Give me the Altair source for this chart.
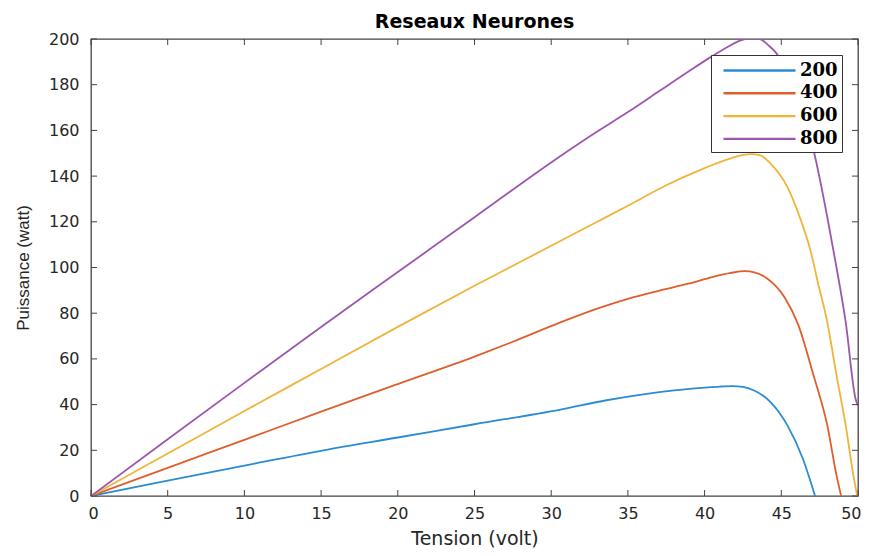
import altair as alt
import pandas as pd

# ---- data ----
series = ["200", "400", "600", "800"]
colors = ["#2b8cd4", "#de5f2c", "#efb43a", "#9c57ae"]

v200 = [0, 5, 10, 15.15, 20, 25, 30.6, 33.6, 36, 38, 40, 41, 41.8, 42.5, 43.2, 44.3, 45.4, 46.4, 47.2]
p200 = [0, 6.7, 13.3, 20, 25.6, 31.4, 37.8, 41.9, 44.5, 46.2, 47.4, 47.9, 48.1, 47.8, 46.3, 41.1, 30.9, 16.4, 0]

v400 = [0, 5, 10, 15, 20, 25, 27.5, 30.6, 33, 35, 37, 39, 40.5, 41.7, 42.6, 43.3, 44.1, 45.2, 46.1, 47.1, 48.0, 48.6, 48.9]
p400 = [0, 12.3, 24.6, 36.9, 49, 61, 67.5, 76, 82, 86.3, 89.8, 93, 95.8, 97.6, 98.4, 97.8, 95.1, 87.1, 75, 52.8, 30.9, 9, 0]

v600 = [0, 5, 10, 15, 20, 25, 27, 30, 33, 35, 37.5, 40, 41.7, 43, 43.6, 44.3, 45.4, 46.2, 46.9, 47.4, 48.0, 48.6, 49.2, 49.7, 49.95]
p600 = [0, 18.6, 37.2, 55.6, 74, 92, 99, 109.5, 120, 127, 136, 143.5, 147.8, 149.6, 149.2, 145.5, 135.2, 122.1, 107.5, 93, 76, 52.8, 30.9, 9, 0]

v800 = [0, 5, 10, 15, 20, 25, 30, 33, 35, 37, 39, 40.5, 41.5, 42.3, 43, 43.6, 44.2, 44.7, 45.5, 46.3, 47.1, 48.0, 48.6, 49.2, 49.84, 50]
p800 = [0, 24.8, 49.5, 74, 98, 122, 146, 159.5, 168, 177, 186, 192.5, 196.5, 199.3, 200.3, 200, 197, 193.6, 183, 169, 151.3, 122, 100, 76, 42.6, 39.5]

x_ticks = list(range(0, 51, 5))
y_ticks = list(range(0, 201, 20))

title_text = "Reseaux Neurones"
x_title = "Tension (volt)"
y_title = "Puissance (watt)"

# ---- build table ----
rows = []
for name, vs, ps in [("200", v200, p200), ("400", v400, p400), ("600", v600, p600), ("800", v800, p800)]:
    for i, (v, p) in enumerate(zip(vs, ps)):
        rows.append({"serie": name, "v": v, "p": p, "i": i})
df = pd.DataFrame(rows)

W, H = 767, 457
FRAME = "#444444"
TXT = "#262626"

xscale = alt.Scale(domain=[0, 50], nice=False, zero=False)
yscale = alt.Scale(domain=[0, 200], nice=False)

xaxis = alt.Axis(values=x_ticks, title=x_title, grid=False, ticks=False, tickSize=0, domain=False,
                 labelFont="DejaVu Sans", labelFontSize=16, labelColor=TXT, labelPadding=9,
                 labelFlush=True, labelFlushOffset=3,
                 titleFont="DejaVu Sans", titleFontSize=19, titleFontWeight="normal",
                 titleColor=TXT, titlePadding=8)
yaxis = alt.Axis(values=y_ticks, title=y_title, grid=False, ticks=False, tickSize=0, domain=False,
                 labelFont="DejaVu Sans", labelFontSize=16, labelColor=TXT, labelPadding=12,
                 labelFlush=False,
                 titleFont="Liberation Sans", titleFontSize=17, titleFontWeight="normal",
                 titleColor=TXT, titlePadding=16)

lines = alt.Chart(df).mark_line(strokeWidth=1.8, interpolate="monotone", clip=True).encode(
    x=alt.X("v:Q", scale=xscale, axis=xaxis),
    y=alt.Y("p:Q", scale=yscale, axis=yaxis),
    color=alt.Color("serie:N", scale=alt.Scale(domain=series, range=colors),
                    legend=alt.Legend(orient="none", legendX=620, legendY=16, title=None,
                                      symbolType="M-3.6,0H3.6", symbolSize=400, symbolStrokeWidth=2.4,
                                      symbolOffset=33,
                                      labelFont="DejaVu Serif", labelFontWeight="bold", labelFontSize=18,
                                      labelColor="black", strokeColor="#333333", fillColor="white",
                                      padding=4, rowPadding=1.8, labelOffset=29)),
    order="i:Q",
)

xt = pd.DataFrame({"v": x_ticks})
yt = pd.DataFrame({"p": y_ticks})

tick_bottom = alt.Chart(xt).mark_rule(color=FRAME, strokeWidth=1).encode(
    x=alt.X("v:Q", scale=xscale, axis=xaxis), y=alt.value(H), y2=alt.value(H - 6))
tick_top = alt.Chart(xt).mark_rule(color=FRAME, strokeWidth=1).encode(
    x=alt.X("v:Q", scale=xscale, axis=xaxis), y=alt.value(0), y2=alt.value(6))
tick_left = alt.Chart(yt).mark_rule(color=FRAME, strokeWidth=1).encode(
    y=alt.Y("p:Q", scale=yscale, axis=yaxis), x=alt.value(0), x2=alt.value(6))
tick_right = alt.Chart(yt).mark_rule(color=FRAME, strokeWidth=1).encode(
    y=alt.Y("p:Q", scale=yscale, axis=yaxis), x=alt.value(W), x2=alt.value(W - 6))

chart = alt.layer(lines, tick_bottom, tick_top, tick_left, tick_right).properties(
    width=W, height=H,
    title=alt.Title(title_text, font="DejaVu Sans", fontSize=19, fontWeight="bold", color="black",
                    anchor="middle", frame="group", offset=10, dy=11),
    autosize=alt.AutoSizeParams(type="none"),
    padding={"left": 83, "top": 31, "right": 4, "bottom": 52},
    background="white",
).configure_view(stroke=FRAME, strokeWidth=1.3)

chart.save("out.html", embed_options={"renderer": "svg", "actions": False})
